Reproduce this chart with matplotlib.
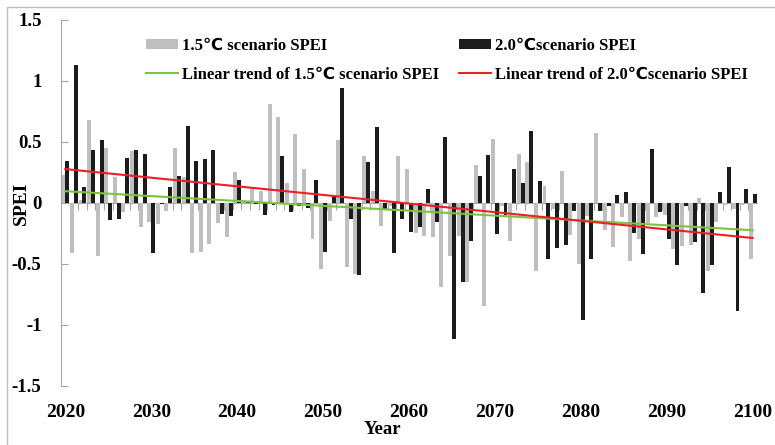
import numpy as np
import matplotlib
matplotlib.use("Agg")
import matplotlib.pyplot as plt
from matplotlib.patches import Rectangle

# --- data ---
years = np.arange(2020, 2101)

spei_15 = [
    0.23, -0.41, 0.02, 0.68, -0.44, 0.45, 0.21, -0.08, 0.42, -0.20,
    -0.16, -0.175, -0.065, 0.445, 0.21, -0.41, -0.40, -0.34, -0.17, -0.28,
    0.25, 0.02, 0.12, 0.10, 0.81, 0.70, 0.16, 0.56, 0.28, -0.30,
    -0.54, -0.15, 0.51, -0.53, -0.585, 0.38, 0.10, -0.19, -0.03, 0.38,
    0.28, -0.25, -0.27, -0.28, -0.69, -0.44, -0.27, -0.65, 0.31, -0.85,
    0.52, -0.03, -0.31, 0.40, 0.33, -0.56, 0.14, -0.05, 0.26, -0.265,
    -0.50, -0.11, 0.57, -0.22, -0.36, -0.12, -0.48, -0.30, -0.17, -0.12,
    -0.10, -0.38, -0.355, -0.35, 0.035, -0.56, -0.16, -0.02, -0.05, -0.02,
    -0.46,
]

spei_20 = [
    0.34, 1.13, 0.13, 0.43, 0.51, -0.14, -0.13, 0.37, 0.43, 0.40,
    -0.415, -0.01, 0.13, 0.22, 0.63, 0.34, 0.36, 0.43, -0.09, -0.11,
    0.19, 0.01, -0.01, -0.10, -0.02, 0.38, -0.075, -0.03, -0.04, 0.19,
    -0.40, 0.05, 0.94, -0.13, -0.59, 0.33, 0.62, -0.05, -0.41, -0.13,
    -0.24, -0.20, 0.11, -0.16, 0.535, -1.12, -0.65, -0.31, 0.22, 0.39,
    -0.26, -0.10, 0.28, 0.16, 0.59, 0.18, -0.46, -0.37, -0.35, -0.065,
    -0.96, -0.46, -0.07, -0.03, 0.063, 0.09, -0.25, -0.42, 0.44, -0.08,
    -0.30, -0.51, -0.03, -0.32, -0.74, -0.51, 0.085, 0.29, -0.89, 0.11,
    0.07,
]

label_15 = "1.5\u2103 scenario SPEI"
label_20 = "2.0\u2103scenario SPEI"
trend_label_15 = "Linear trend of 1.5\u2103 scenario SPEI"
trend_label_20 = "Linear trend of 2.0\u2103scenario SPEI"

# --- style ---
FONT = ["Liberation Serif", "DejaVu Sans"]
plt.rcParams["font.family"] = FONT
plt.rcParams["font.weight"] = "bold"
AXIS_GRAY = "#A6A6A6"

W, H = 775, 445
fig = plt.figure(figsize=(W / 100, H / 100), dpi=100)
ax = fig.add_axes([61 / W, 1 - 385.7 / H, 696 / W, 366 / H])

bw = 0.46
ax.bar(years - bw / 2, spei_15, width=bw, color="#BFBFBF", label=label_15, zorder=2)
ax.bar(years + bw / 2, spei_20, width=bw, color="#1C1C1C", label=label_20, zorder=2)

# linear trends
k15, b15 = np.polyfit(years, spei_15, 1)
k20, b20 = np.polyfit(years, spei_20, 1)
ends = np.array([years[0], years[-1]])
ln15, = ax.plot(ends, k15 * ends + b15, color="#7DC242", lw=1.5, zorder=3)
ln20, = ax.plot(ends, k20 * ends + b20, color="#E8202A", lw=1.5, zorder=3)

ax.set_xlim(years[0] - 0.5, years[-1] + 0.5)
ax.set_ylim(-1.5, 1.5)

# y axis
yt = np.arange(-1.5, 1.51, 0.5)
ax.set_yticks(yt)
ax.set_yticklabels(["%g" % v for v in yt])
ax.tick_params(axis="y", direction="in", length=5, color=AXIS_GRAY,
               labelsize=13.5, pad=14)
for side in ["top", "right"]:
    ax.spines[side].set_visible(False)
ax.spines["left"].set_color(AXIS_GRAY)

# category axis crossing at zero, ticks between categories
ax.spines["bottom"].set_position(("data", 0))
ax.spines["bottom"].set_color(AXIS_GRAY)
ax.spines["bottom"].set_zorder(1)
ax.set_xticks(np.arange(years[0] + 0.5, years[-1], 1))
ax.tick_params(axis="x", direction="out", length=5, color=AXIS_GRAY,
               labelbottom=False)

sec = ax.secondary_xaxis(0)
sec.set_xticks(years[::10])
sec.set_xticklabels([str(y) for y in years[::10]])
sec.tick_params(length=0, labelsize=14, pad=13)
sec.spines["bottom"].set_visible(False)

ax.set_ylabel("SPEI", fontsize=14, fontweight="bold")
ax.yaxis.set_label_coords((30 - 61) / 696, (385.7 - 203) / 366)
ax.set_xlabel("Year", fontsize=13.5, fontweight="bold")
ax.xaxis.set_label_coords((382 - 61) / 696, (385.7 - 421) / 366)

# legend: two columns placed separately
bars = ax.containers
leg_kw = dict(loc="upper left", frameon=False, borderpad=0,
              borderaxespad=0, handlelength=1.9, handleheight=0.5,
              handletextpad=0.25, labelspacing=0.75,
              prop={"family": FONT, "weight": "bold", "size": 12})
leg1 = fig.legend([bars[0], ln15], [label_15, trend_label_15],
                  bbox_to_anchor=(146 / W, 1 - 38 / H), **leg_kw)
leg2 = fig.legend([bars[1], ln20], [label_20, trend_label_20],
                  bbox_to_anchor=(459 / W, 1 - 38 / H), **leg_kw)

# chart area border (Excel style)
fig.patches.append(Rectangle((6.5 / W, -0.1), 1.2, 1 - 6.7 / H + 0.1,
                             transform=fig.transFigure, fill=False,
                             ec="#BFBFBF", lw=1))

fig.savefig("out.png", dpi=100)
